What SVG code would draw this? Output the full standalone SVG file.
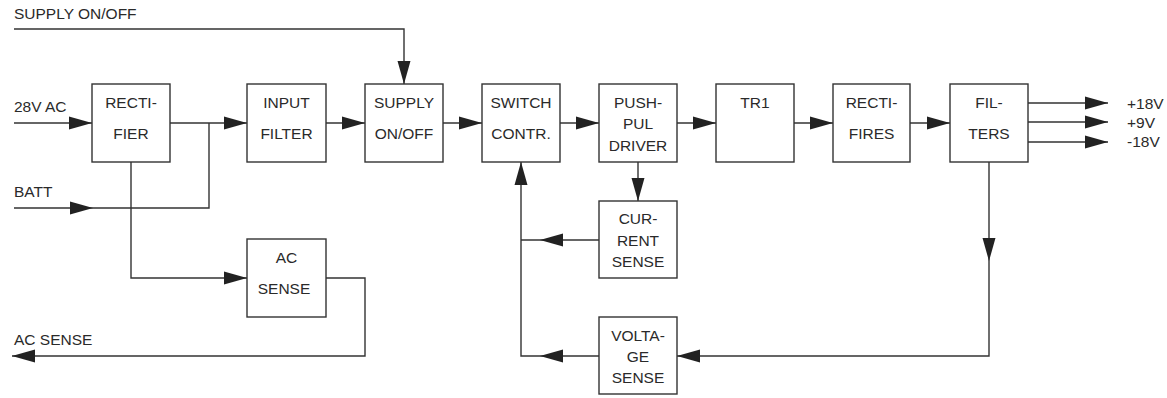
<svg xmlns="http://www.w3.org/2000/svg" xmlns:xlink="http://www.w3.org/1999/xlink" width="1167" height="398" viewBox="0 0 1167 398">
<style>
.box{fill:#fff;stroke:#333;stroke-width:1.4}
.ln{fill:none;stroke:#333;stroke-width:1.4}
text{font-family:"Liberation Sans",Arial,sans-serif;font-size:15.5px;fill:#2a2a2a}
.c{text-anchor:middle}
</style>
<defs>
<polygon id="ah" points="0,0 -23,-6.5 -23,6.5" fill="#222"/>
</defs>
<rect width="1167" height="398" fill="#fff"/>
<g id="connectors">
<path class="ln" d="M14,29 H404 V84"/>
<path class="ln" d="M14,123 H92"/>
<path class="ln" d="M170,123 H247"/>
<path class="ln" d="M209,123 V208 H14"/>
<path class="ln" d="M131,162 V278 H247"/>
<path class="ln" d="M326,278 H365 V356 H12"/>
<path class="ln" d="M326,123 H365"/>
<path class="ln" d="M443,123 H482"/>
<path class="ln" d="M560,123 H599"/>
<path class="ln" d="M677,123 H716"/>
<path class="ln" d="M794,123 H833"/>
<path class="ln" d="M910,123 H950"/>
<path class="ln" d="M1028,103 H1108 M1028,122 H1108 M1028,142 H1108"/>
<path class="ln" d="M638,162 V201"/>
<path class="ln" d="M599,240 H521"/>
<path class="ln" d="M521,162 V356 H599"/>
<path class="ln" d="M989,162 V356 H677"/>
<use xlink:href="#ah" transform="translate(404,84) rotate(90)"/>
<use xlink:href="#ah" transform="translate(92,123)"/>
<use xlink:href="#ah" transform="translate(93,208)"/>
<use xlink:href="#ah" transform="translate(247,123)"/>
<use xlink:href="#ah" transform="translate(247,278)"/>
<use xlink:href="#ah" transform="translate(12,356) rotate(180)"/>
<use xlink:href="#ah" transform="translate(365,123)"/>
<use xlink:href="#ah" transform="translate(482,123)"/>
<use xlink:href="#ah" transform="translate(599,123)"/>
<use xlink:href="#ah" transform="translate(716,123)"/>
<use xlink:href="#ah" transform="translate(833,123)"/>
<use xlink:href="#ah" transform="translate(950,123)"/>
<use xlink:href="#ah" transform="translate(1108,103)"/>
<use xlink:href="#ah" transform="translate(1108,122)"/>
<use xlink:href="#ah" transform="translate(1108,142)"/>
<use xlink:href="#ah" transform="translate(638,201) rotate(90)"/>
<use xlink:href="#ah" transform="translate(540,240) rotate(180)"/>
<use xlink:href="#ah" transform="translate(540,356) rotate(180)"/>
<use xlink:href="#ah" transform="translate(521,162) rotate(-90)"/>
<use xlink:href="#ah" transform="translate(989,261) rotate(90)"/>
<use xlink:href="#ah" transform="translate(677,356) rotate(180)"/>
</g>
<g id="labels">
<text x="14" y="19">SUPPLY ON/OFF</text>
<text x="14" y="112">28V AC</text>
<text x="14" y="197">BATT</text>
<text x="14" y="345">AC SENSE</text>
<text x="1127" y="109">+18V</text>
<text x="1127" y="128">+9V</text>
<text x="1127" y="147">-18V</text>
</g>
<g id="rectifier"><rect class="box" x="92" y="84" width="78" height="78"/><text class="c" x="131" y="108">RECTI-</text><text class="c" x="131" y="139">FIER</text></g>
<g id="input-filter"><rect class="box" x="247" y="84" width="79" height="78"/><text class="c" x="286.5" y="108">INPUT</text><text class="c" x="286.5" y="139">FILTER</text></g>
<g id="supply-onoff"><rect class="box" x="365" y="84" width="78" height="78"/><text class="c" x="404" y="108">SUPPLY</text><text class="c" x="404" y="139">ON/OFF</text></g>
<g id="switch-contr"><rect class="box" x="482" y="84" width="78" height="78"/><text class="c" x="521" y="108">SWITCH</text><text class="c" x="521" y="139">CONTR.</text></g>
<g id="push-pull-driver"><rect class="box" x="599" y="84" width="78" height="78"/><text class="c" x="638" y="108">PUSH-</text><text class="c" x="638" y="129">PUL</text><text class="c" x="638" y="151">DRIVER</text></g>
<g id="tr1"><rect class="box" x="716" y="84" width="78" height="78"/><text class="c" x="755" y="108">TR1</text></g>
<g id="rectifires"><rect class="box" x="833" y="84" width="77" height="78"/><text class="c" x="871.5" y="108">RECTI-</text><text class="c" x="871.5" y="139">FIRES</text></g>
<g id="filters"><rect class="box" x="950" y="84" width="78" height="78"/><text class="c" x="989" y="108">FIL-</text><text class="c" x="989" y="139">TERS</text></g>
<g id="ac-sense"><rect class="box" x="247" y="239" width="79" height="78"/><text class="c" x="286.5" y="263">AC</text><text class="c" x="284" y="294">SENSE</text></g>
<g id="current-sense"><rect class="box" x="599" y="201" width="78" height="77"/><text class="c" x="638" y="224">CUR-</text><text class="c" x="638" y="246">RENT</text><text class="c" x="638" y="267">SENSE</text></g>
<g id="voltage-sense"><rect class="box" x="599" y="317" width="78" height="77"/><text class="c" x="638" y="341">VOLTA-</text><text class="c" x="638" y="362">GE</text><text class="c" x="638" y="383">SENSE</text></g>
</svg>
